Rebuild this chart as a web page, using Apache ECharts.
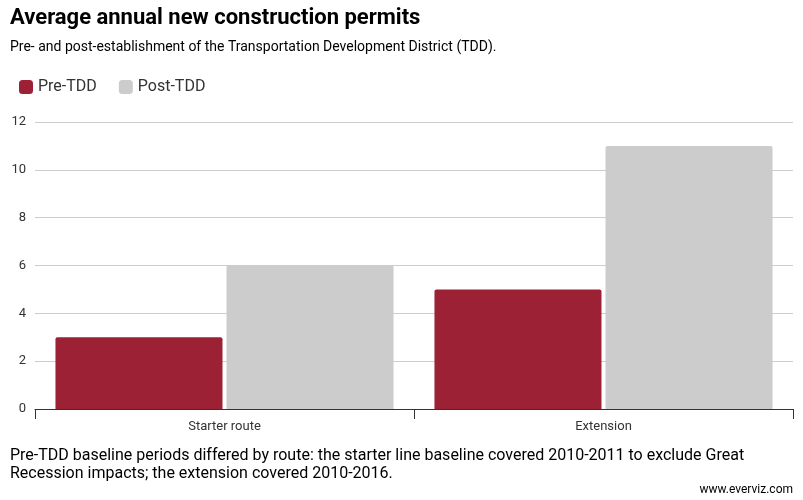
<!DOCTYPE html>
<html><head><meta charset="utf-8">
<script src="https://cdn.jsdelivr.net/npm/echarts@6/dist/echarts.min.js"></script>
<style>html,body{margin:0;padding:0;background:#fff}#c{width:803px;height:500px}</style>
</head><body><div id="c"></div>
<script>
const categories = ['Starter route', 'Extension'];
const preTDD = [3, 5];
const postTDD = [6, 11];
const seriesNames = ['Pre-TDD', 'Post-TDD'];
const yTicks = { min: 0, max: 12, interval: 2 };

const chart = echarts.init(document.getElementById('c'));
const font = 'Roboto';
chart.setOption({
  animation: false,
  textStyle: { fontFamily: font },
  title: [
    { text: 'Average annual new construction permits', left: 10, top: 7, padding: 0,
      textStyle: { fontFamily: font, fontSize: 22, fontWeight: 'bold', color: '#000' } },
    { text: 'Pre- and post-establishment of the Transportation Development District (TDD).', left: 10, top: 40, padding: 0,
      textStyle: { fontFamily: font, fontSize: 14, fontWeight: 'normal', color: '#000' } },
    { text: 'Pre-TDD baseline periods differed by route: the starter line baseline covered 2010-2011 to exclude Great\nRecession impacts; the extension covered 2010-2016.', left: 10, top: 447, padding: 0,
      textStyle: { fontFamily: font, fontSize: 16, fontWeight: 'normal', color: '#000', lineHeight: 18 } },
    { text: 'www.everviz.com', right: 10, top: 484, padding: 0,
      textStyle: { fontFamily: font, fontSize: 12, fontWeight: 'normal', color: '#000' } }
  ],
  legend: {
    left: 14, top: 74, itemWidth: 14, itemHeight: 14, itemGap: 22,
    icon: 'roundRect',
    textStyle: { fontFamily: font, fontSize: 16, color: '#333' },
    data: seriesNames
  },
  grid: { left: 35, right: 10, top: 122, bottom: 91, containLabel: false },
  xAxis: {
    type: 'category', data: categories,
    axisLine: { lineStyle: { color: '#333', width: 1 } },
    axisTick: { show: true, length: 10, lineStyle: { color: '#333' } },
    axisLabel: { fontFamily: font, fontSize: 13, color: '#333', margin: 11 }
  },
  yAxis: {
    type: 'value', min: yTicks.min, max: yTicks.max, interval: yTicks.interval,
    axisLine: { show: false }, axisTick: { show: false },
    splitLine: { lineStyle: { color: '#ccc', width: 1 } },
    axisLabel: { fontFamily: font, fontSize: 13, color: '#333', margin: 9 }
  },
  series: [
    { name: seriesNames[0], type: 'bar', data: preTDD, barGap: '2.4%', barCategoryGap: '10.8%',
      itemStyle: { color: '#9c2135', borderRadius: [2, 2, 0, 0] } },
    { name: seriesNames[1], type: 'bar', data: postTDD,
      itemStyle: { color: '#cccccc', borderRadius: [2, 2, 0, 0] } }
  ]
});
</script></body></html>
